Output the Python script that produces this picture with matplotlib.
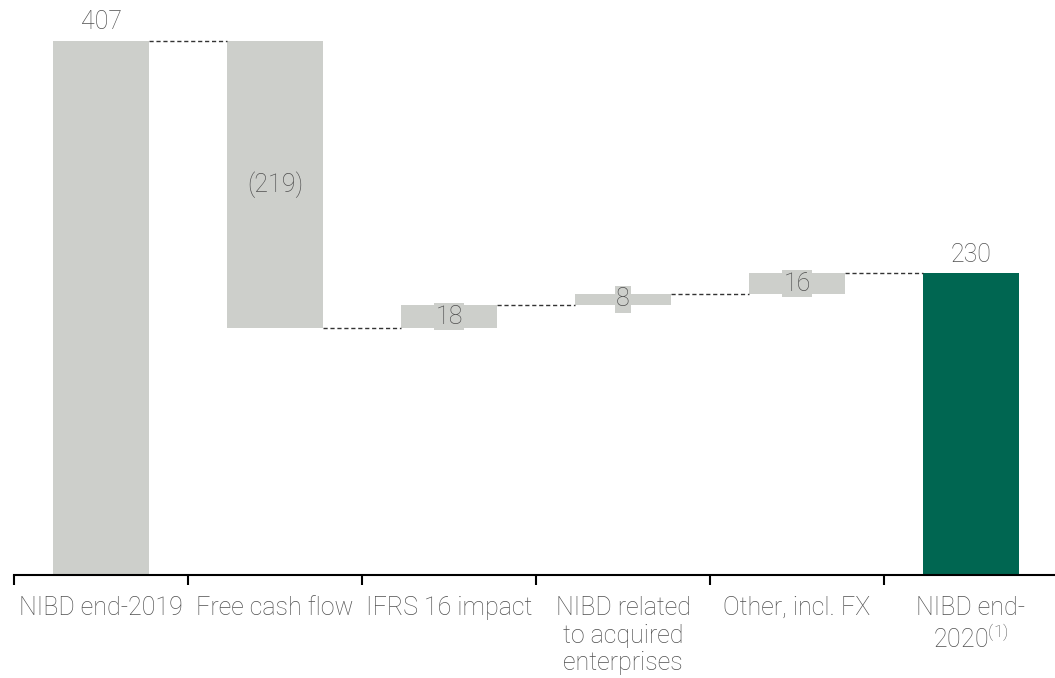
import matplotlib
matplotlib.use("Agg")
import matplotlib.pyplot as plt

# Chart data
categories = ["NIBD end-2019", "Free cash flow", "IFRS 16 impact",
              "NIBD related\nto acquired\nenterprises", "Other, incl. FX",
              "NIBD end-\n2020$^{\\mathregular{(1)}}$"]
start_value = 407
changes = [-219, 18, 8, 16]
end_value = 230
labels = ["407", "(219)", "18", "8", "16", "230"]

plt.rcParams['font.family'] = ['Roboto', 'DejaVu Sans']
plt.rcParams['font.weight'] = 'light'
plt.rcParams['mathtext.default'] = 'regular'

grey = "#cdcfcb"
green = "#006651"
text_col = "#505050"

fig = plt.figure(figsize=(10.55, 6.78), dpi=100)
ax = fig.add_axes([14 / 1055, 103 / 678, 1044 / 1055, 575 / 678])

# Build waterfall bottoms/heights
bottoms = [0]
heights = [start_value]
level = start_value
for c in changes:
    new_level = level + c
    bottoms.append(min(level, new_level))
    heights.append(abs(c))
    level = new_level
bottoms.append(0)
heights.append(end_value)
colors = [grey] * 5 + [green]

x = list(range(len(categories)))
w = 0.55
ax.bar(x, heights, bottom=bottoms, width=w, color=colors, linewidth=0)

# connectors
level = start_value
levels = [start_value]
for c in changes:
    level += c
    levels.append(level)
for i in range(len(categories) - 1):
    ax.plot([i + w / 2, i + 1 - w / 2], [levels[i], levels[i]],
            color="#333333", lw=1.0, ls=(0, (3, 2)))

# value labels
for i, lab in enumerate(labels):
    if i == 0 or i == len(labels) - 1:
        ax.text(i, heights[i] + 5, lab, ha="center", va="bottom",
                fontsize=18, color=text_col)
    else:
        ax.text(i, bottoms[i] + heights[i] / 2, lab, ha="center", va="center",
                fontsize=18, color=text_col,
                bbox=dict(facecolor=grey, edgecolor="none", pad=1.0))

ax.set_xlim(-0.5, len(categories) - 0.5)
ax.set_ylim(0, 575 / 1.312)
for s in ["top", "right", "left"]:
    ax.spines[s].set_visible(False)
ax.spines["bottom"].set_linewidth(1.5)
ax.set_yticks([])
ax.set_xticks([i - 0.5 for i in range(len(categories))])
ax.set_xticklabels([])
ax.tick_params(axis="x", which="major", length=7, width=1.5, direction="out")
ax.set_xticks(x, minor=True)
ax.set_xticklabels(categories, minor=True, fontsize=18, color=text_col,
                   linespacing=1.2, va="top")
ax.tick_params(axis="x", which="minor", length=0, pad=15)

fig.savefig("out.png", dpi=100)
